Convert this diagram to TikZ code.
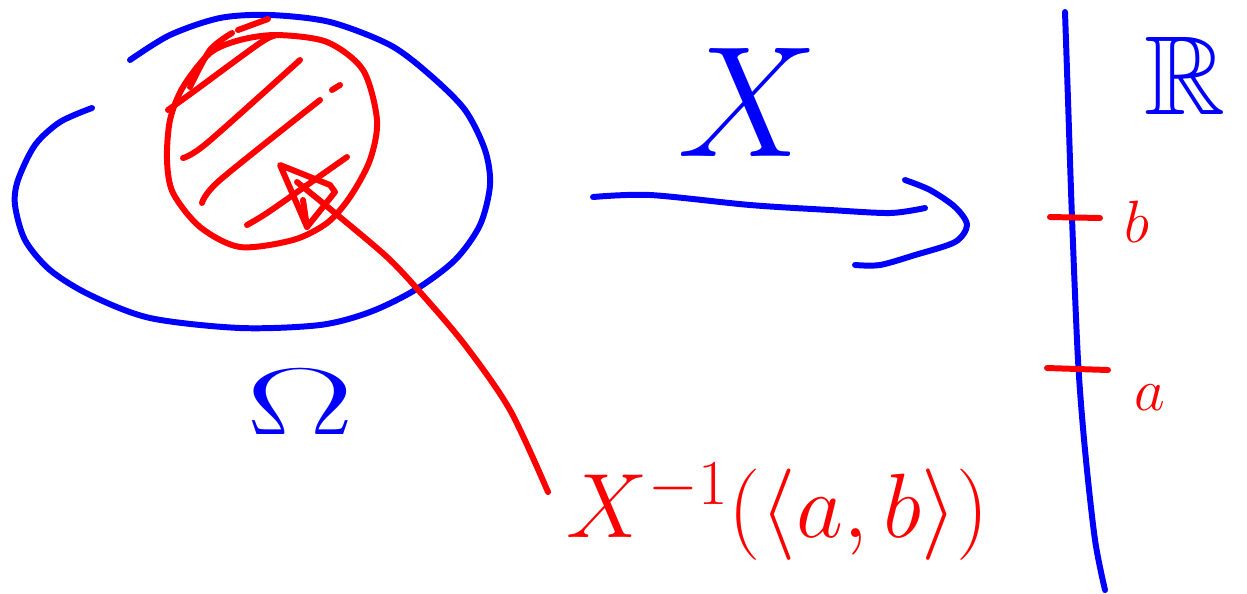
\RequirePackage{fix-cm}
\documentclass[tikz,border=0pt]{standalone}
\usepackage{amssymb,amsmath}
\begin{document}
\begin{tikzpicture}[x=0.02cm,y=-0.02cm]
\tikzstyle{pen}=[line width=3.4pt,line cap=round,line join=round]
\tikzstyle{bluepen}=[pen,draw=blue]
\tikzstyle{redpen}=[pen,draw=red]
\tikzstyle{bluetext}=[text=blue,inner sep=0pt]
\tikzstyle{redtext}=[text=red,inner sep=0pt]
\useasboundingbox (0,0) rectangle (1247,593);
% the set Omega
\draw[bluepen] plot[smooth] coordinates {(92,108) (60,122) (35,145) (18,180) (15,205) (25,240) (50,270) (90,295) (150,318) (240,328) (320,325) (370,312) (415,290) (455,260) (480,225) (490,185) (485,150) (465,110) (430,75) (390,45) (330,22) (270,15) (220,18) (170,35) (130,60)};
\node[bluetext,font=\fontsize{54}{54}\selectfont] (omega) at (300,402) {\scalebox{1.7}[1]{$\Omega$}};
% the preimage, hatched
\draw[redpen] plot[smooth cycle] coordinates {(277,35) (327,42) (363,70) (377,120) (370,160) (350,197) (327,223) (293,240) (240,247) (200,227) (173,193) (167,160) (170,120) (183,87) (210,53) (240,40)};
\draw[redpen] plot[smooth] coordinates {(168,110) (193,92) (260,43) (277,35)};
\draw[redpen] plot[smooth] coordinates {(190,87) (210,50) (232,33)};
\draw[redpen] (238,30) -- (268,19);
\draw[redpen] plot[smooth] coordinates {(183,158) (207,143) (300,60)};
\draw[redpen] (332,90) -- (340,85);
\draw[redpen] plot[smooth] coordinates {(202,203) (220,180) (320,100)};
\draw[redpen] plot[smooth] coordinates {(247,225) (267,213) (310,183) (347,157)};
% pointer to the label
\draw[redpen] (280,165) -- (307,227) -- (335,192) -- (330,185) -- cycle;
\draw[redpen] (303,200) -- (307,227);
\draw[redpen] plot[smooth] coordinates {(297,182) (335,213) (387,257) (420,292) (465,345) (510,410) (548,492)};
\node[redtext,font=\fontsize{52}{52}\selectfont] (pre) at (778,512) {$X^{-1}(\langle a,b\rangle)$};
% the map X
\node[bluetext,font=\fontsize{90}{90}\selectfont] (map) at (748,102) {$X$};
\draw[bluepen] plot[smooth] coordinates {(593,197) (650,195) (750,205) (830,210) (890,213) (925,208)};
\draw[bluepen] plot[smooth] coordinates {(905,180) (930,190) (955,207) (967,225) (955,242) (915,255) (880,265) (855,265)};
% the real line
\draw[bluepen] plot[smooth] coordinates {(1065,12) (1068,100) (1072,218) (1078,360) (1085,450) (1095,540) (1105,590)};
\node[bluetext,font=\fontsize{64}{64}\selectfont] (reals) at (1185,76) {$\mathbb{R}$};
\draw[redpen] (1050,217) -- (1100,218);
\draw[redpen] (1047,368) -- (1108,370);
\node[redtext,font=\fontsize{34}{34}\selectfont] (b) at (1137,222) {$b$};
\node[redtext,font=\fontsize{34}{34}\selectfont] (a) at (1150,398) {$a$};
\end{tikzpicture}
\end{document}
